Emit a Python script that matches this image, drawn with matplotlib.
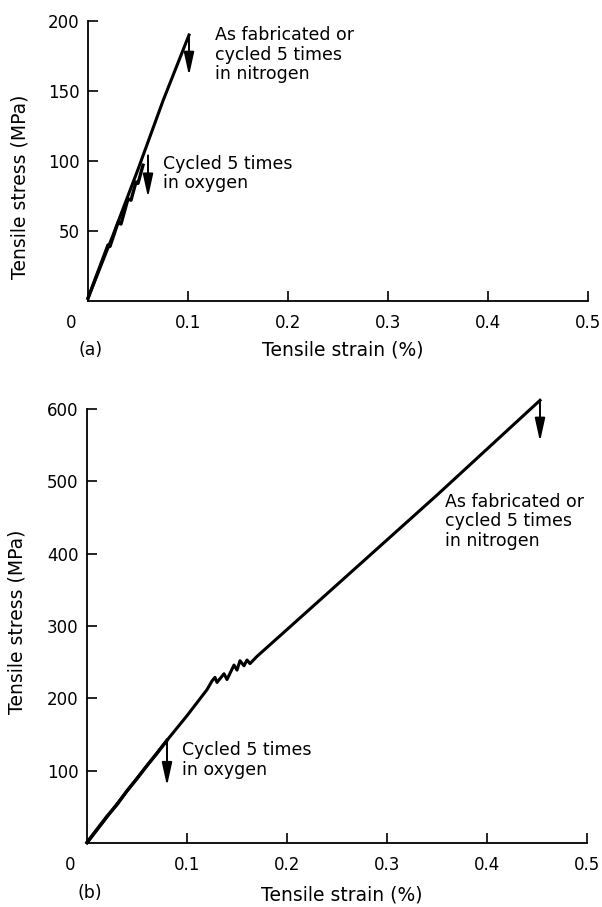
import matplotlib.pyplot as plt

# (a) low-stress specimen
strain_a_n2 = [0.0, 0.025, 0.05, 0.075, 0.101]
stress_a_n2 = [2, 47, 94, 143, 190]
strain_a_o2 = [0.0, 0.01, 0.02, 0.022, 0.03, 0.033, 0.04, 0.043, 0.048, 0.05, 0.055]
stress_a_o2 = [2, 21, 40, 39, 56, 55, 73, 72, 85, 84, 97]

# (b) high-stress specimen
strain_b_n2 = [0.0, 0.04, 0.08, 0.10, 0.12, 0.125, 0.128, 0.130, 0.137, 0.140,
               0.147, 0.150, 0.153, 0.157, 0.160, 0.163, 0.170, 0.25, 0.35, 0.453]
stress_b_n2 = [0, 72, 142, 176, 212, 224, 229, 222, 234, 226,
               246, 239, 252, 245, 253, 248, 258, 357, 481, 612]
strain_b_o2 = [0.0, 0.02, 0.03, 0.04, 0.05, 0.06, 0.07, 0.08]
stress_b_o2 = [1, 37, 53, 72, 89, 107, 124, 142]

# failure arrows: (strain, stress at top, stress at tip)
fail_a = [(0.101, 190, 161), (0.060, 104, 74)]
fail_b = [(0.453, 612, 555), (0.080, 142, 79)]

xticks = [0.1, 0.2, 0.3, 0.4, 0.5]
xticklabels = ['0.1', '0.2', '0.3', '0.4', '0.5']
yticks_a = [50, 100, 150, 200]
yticks_b = [100, 200, 300, 400, 500, 600]

plt.rcParams['font.family'] = 'DejaVu Sans'

fig = plt.figure(figsize=(6.02, 9.07), dpi=100)
ax_a = fig.add_axes([88 / 602, 1 - 301 / 907, 500 / 602, 280 / 907])
ax_b = fig.add_axes([87 / 602, 1 - 843 / 907, 500 / 602, 434 / 907])


def style(ax, yticks, ymax):
    ax.set_xlim(0, 0.5)
    ax.set_ylim(0, ymax)
    for s in ['top', 'right']:
        ax.spines[s].set_visible(False)
    for s in ['left', 'bottom']:
        ax.spines[s].set_linewidth(1.3)
    ax.set_xticks(xticks)
    ax.set_xticklabels(xticklabels)
    ax.set_yticks(yticks)
    ax.set_yticklabels([str(v) for v in yticks])
    ax.tick_params(direction='in', length=7, width=1.2, labelsize=12)
    ax.tick_params(axis='x', pad=9)
    ax.tick_params(axis='y', pad=6)
    ax.annotate('0', xy=(0, 0), xytext=(-12, -9), textcoords='offset points',
                ha='center', va='top', fontsize=12)


def arrows(ax, fails):
    for x, top, tip in fails:
        ax.annotate('', xy=(x, tip), xytext=(x, top),
                    arrowprops=dict(arrowstyle='-|>,head_length=1.0,head_width=0.22',
                                    mutation_scale=14, lw=1.4, color='black',
                                    shrinkA=0, shrinkB=0))


style(ax_a, yticks_a, 200)
ax_a.plot(strain_a_n2, stress_a_n2, color='black', lw=2.2, clip_on=False)
ax_a.plot(strain_a_o2, stress_a_o2, color='black', lw=2.4, clip_on=False)
arrows(ax_a, fail_a)
ax_a.text(0.127, 176, 'As fabricated or\ncycled 5 times\nin nitrogen',
          fontsize=12.5, va='center', ha='left', linespacing=1.1)
ax_a.text(0.075, 91, 'Cycled 5 times\nin oxygen',
          fontsize=12.5, va='center', ha='left', linespacing=1.1)

style(ax_b, yticks_b, 600)
ax_b.plot(strain_b_n2, stress_b_n2, color='black', lw=2.2, clip_on=False)
ax_b.plot(strain_b_o2, stress_b_o2, color='black', lw=2.4, clip_on=False)
arrows(ax_b, fail_b)
ax_b.text(0.358, 445, 'As fabricated or\ncycled 5 times\nin nitrogen',
          fontsize=12.5, va='center', ha='left', linespacing=1.1)
ax_b.text(0.095, 115, 'Cycled 5 times\nin oxygen',
          fontsize=12.5, va='center', ha='left', linespacing=1.1)

for ax, lx, ly, yx, yy, tag_y, tag in [
        (ax_a, 0.51, -0.175, -0.136, 0.407, -0.175, '(a)'),
        (ax_b, 0.51, -0.12, -0.14, 0.509, -0.115, '(b)')]:
    ax.set_xlabel('Tensile strain (%)', fontsize=13.5, va='center')
    ax.xaxis.set_label_coords(lx, ly)
    ax.set_ylabel('Tensile stress (MPa)', fontsize=13.5, va='center')
    ax.yaxis.set_label_coords(yx, yy)
    ax.text(0.005, tag_y, tag, transform=ax.transAxes, fontsize=12.5,
            ha='center', va='center')

fig.savefig('out.png', dpi=100)
